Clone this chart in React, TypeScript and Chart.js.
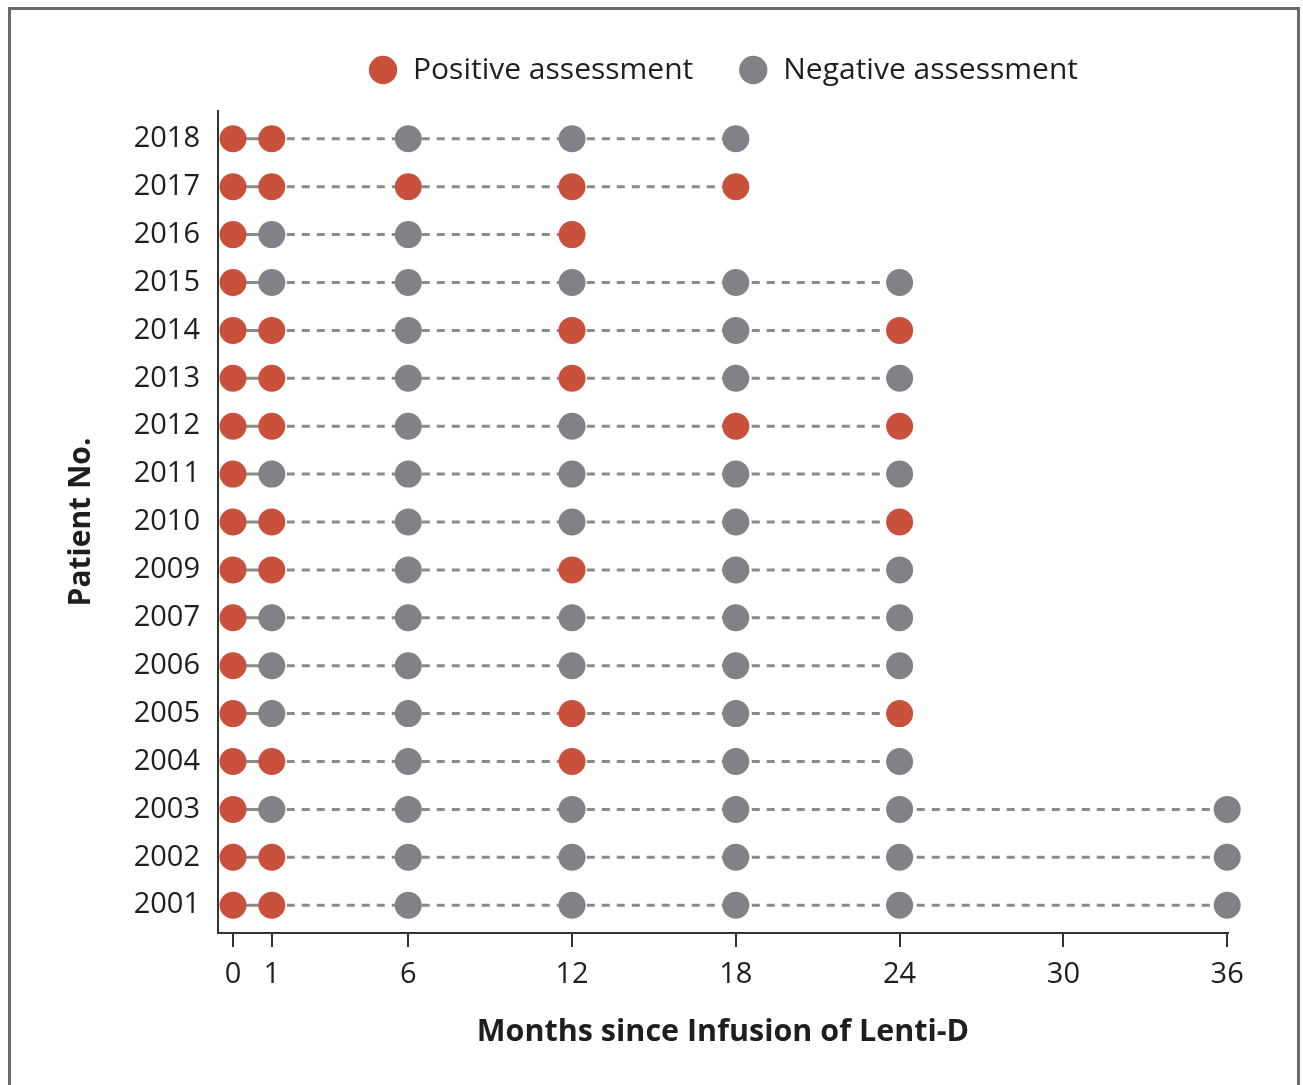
import React, { useEffect, useRef } from 'react';
import { Chart, registerables, LinearScale } from 'chart.js';

// ---- data ----
const patients = ['2018', '2017', '2016', '2015', '2014', '2013', '2012', '2011', '2010', '2009', '2007', '2006', '2005', '2004', '2003', '2002', '2001'];
const visitMonths = [0, 1, 6, 12, 18, 24, 36];
const tickMonths = [0, 1, 6, 12, 18, 24, 30, 36];
// 1 = positive assessment, 0 = negative assessment, null = not assessed (per visit month)
const a2018 = [1, 1, 0, 0, 0, null, null];
const a2017 = [1, 1, 1, 1, 1, null, null];
const a2016 = [1, 0, 0, 1, null, null, null];
const a2015 = [1, 0, 0, 0, 0, 0, null];
const a2014 = [1, 1, 0, 1, 0, 1, null];
const a2013 = [1, 1, 0, 1, 0, 0, null];
const a2012 = [1, 1, 0, 0, 1, 1, null];
const a2011 = [1, 0, 0, 0, 0, 0, null];
const a2010 = [1, 1, 0, 0, 0, 1, null];
const a2009 = [1, 1, 0, 1, 0, 0, null];
const a2007 = [1, 0, 0, 0, 0, 0, null];
const a2006 = [1, 0, 0, 0, 0, 0, null];
const a2005 = [1, 0, 0, 1, 0, 1, null];
const a2004 = [1, 1, 0, 1, 0, 0, null];
const a2003 = [1, 0, 0, 0, 0, 0, 0];
const a2002 = [1, 1, 0, 0, 0, 0, 0];
const a2001 = [1, 1, 0, 0, 0, 0, 0];
const assessments = [a2018, a2017, a2016, a2015, a2014, a2013, a2012, a2011, a2010, a2009, a2007, a2006, a2005, a2004, a2003, a2002, a2001];

const POS = '#c9503a';
const NEG = '#808287';
const LINE = '#8a8a8a';
const TEXT = '#1e1e1e';
const AXIS = '#333333';
const FONT = "'Open Sans', sans-serif";

// The schematic stretches the gap between baseline (0) and month 1.
const firstFollowUp = 1;
const baselineStretch = 1.42;

class StretchedStartScale extends LinearScale {
  static id = 'stretchedStart';
  static defaults = LinearScale.defaults;
  getPixelForValue(value: number) {
    const v = value < firstFollowUp ? firstFollowUp - (firstFollowUp - value) * baselineStretch : value;
    return super.getPixelForValue(v);
  }
}

Chart.register(...registerables, StretchedStartScale);

export default function App() {
  const ref = useRef<HTMLCanvasElement | null>(null);

  useEffect(() => {
    if (!ref.current) return;
    const posPts: { x: number; y: number }[] = [];
    const negPts: { x: number; y: number }[] = [];
    const lineSets: any[] = [];
    assessments.forEach((row, i) => {
      const pts: { x: number; y: number }[] = [];
      row.forEach((r, j) => {
        if (r === null) return;
        const p = { x: visitMonths[j], y: i };
        pts.push(p);
        if (r === 1) posPts.push(p);
        else negPts.push(p);
      });
      lineSets.push({
        type: 'scatter',
        label: 'row-' + patients[i],
        data: pts,
        showLine: true,
        borderColor: LINE,
        borderWidth: 3,
        borderDash: [8, 7],
        segment: {
          borderDash: (ctx: any) => (ctx.p0.parsed.x === visitMonths[0] ? [] : [8, 7]),
        },
        pointRadius: 0,
        pointHoverRadius: 0,
        clip: false,
        order: 1,
      });
    });

    const chart = new Chart(ref.current, {
      type: 'scatter',
      data: {
        datasets: [
          {
            label: 'Positive assessment',
            data: posPts,
            backgroundColor: POS,
            borderColor: POS,
            borderWidth: 0,
            pointRadius: 13.5,
            pointStyle: 'circle',
            clip: false,
            order: 0,
          },
          {
            label: 'Negative assessment',
            data: negPts,
            backgroundColor: NEG,
            borderColor: NEG,
            borderWidth: 0,
            pointRadius: 13.5,
            pointStyle: 'circle',
            clip: false,
            order: 0,
          },
          ...lineSets,
        ],
      },
      options: {
        responsive: false,
        animation: false,
        layout: { padding: { left: 40, right: 75, top: 10, bottom: 0 } },
        plugins: {
          tooltip: { enabled: false },
          legend: {
            position: 'top',
            fullSize: false,
            labels: {
              filter: (item: any) => item.datasetIndex < 2,
              usePointStyle: true,
              boxWidth: 30,
              boxHeight: 20,
              padding: 45,
              color: TEXT,
              font: { family: FONT, size: 30 },
            },
          },
        },
        scales: {
          x: {
            type: 'stretchedStart' as any,
            min: -0.97,
            max: 36.03,
            afterBuildTicks: (scale: any) => {
              scale.ticks = tickMonths.map((v) => ({ value: v }));
            },
            afterFit: (scale: any) => {
              scale.height = 152;
            },
            ticks: {
              callback: (v: any) => String(v),
              color: TEXT,
              font: { family: FONT, size: 29 },
              padding: 10,
              maxRotation: 0,
              autoSkip: false,
            },
            grid: {
              display: true,
              drawOnChartArea: false,
              drawTicks: true,
              tickLength: 14,
              color: AXIS,
              lineWidth: 2,
            },
            border: { display: true, color: AXIS, width: 2 },
            title: {
              display: true,
              text: 'Months since Infusion of Lenti-D',
              color: TEXT,
              font: { family: FONT, size: 30.5, weight: 'bold' },
              padding: { top: 0, bottom: 34 },
            },
          },
          xTopSpacer: {
            type: 'linear',
            position: 'top',
            display: true,
            afterFit: (scale: any) => {
              scale.height = 16;
            },
            ticks: { display: false },
            grid: { display: false, drawTicks: false },
            border: { display: false },
            title: { display: false },
          },
          y: {
            type: 'linear',
            reverse: true,
            min: -0.58,
            max: patients.length - 1 + 0.58,
            afterBuildTicks: (scale: any) => {
              scale.ticks = patients.map((_, i) => ({ value: i }));
            },
            afterFit: (scale: any) => {
              scale.width = 178;
            },
            ticks: {
              callback: (v: any) => patients[v],
              color: TEXT,
              font: { family: FONT, size: 29 },
              padding: 18,
              autoSkip: false,
            },
            grid: { display: false, drawTicks: false },
            border: { display: true, color: AXIS, width: 2 },
            title: {
              display: true,
              text: 'Patient No.',
              color: TEXT,
              font: { family: FONT, size: 30, weight: 'bold' },
              padding: { top: 23, bottom: 0 },
            },
          },
        },
      } as any,
    });
    return () => chart.destroy();
  }, []);

  return (
    <div style={{ position: 'fixed', left: 0, top: 0, width: 1303, height: 1085, overflow: 'hidden', background: '#fff' }}>
      <canvas ref={ref} width={1303} height={1085} style={{ position: 'absolute', left: 0, top: 0, width: 1303, height: 1085 }} />
      <div
        style={{
          position: 'absolute',
          left: 8,
          top: 7,
          width: 1292,
          height: 1200,
          border: '3px solid #6b6b6b',
          boxSizing: 'border-box',
          pointerEvents: 'none',
        }}
      />
    </div>
  );
}
